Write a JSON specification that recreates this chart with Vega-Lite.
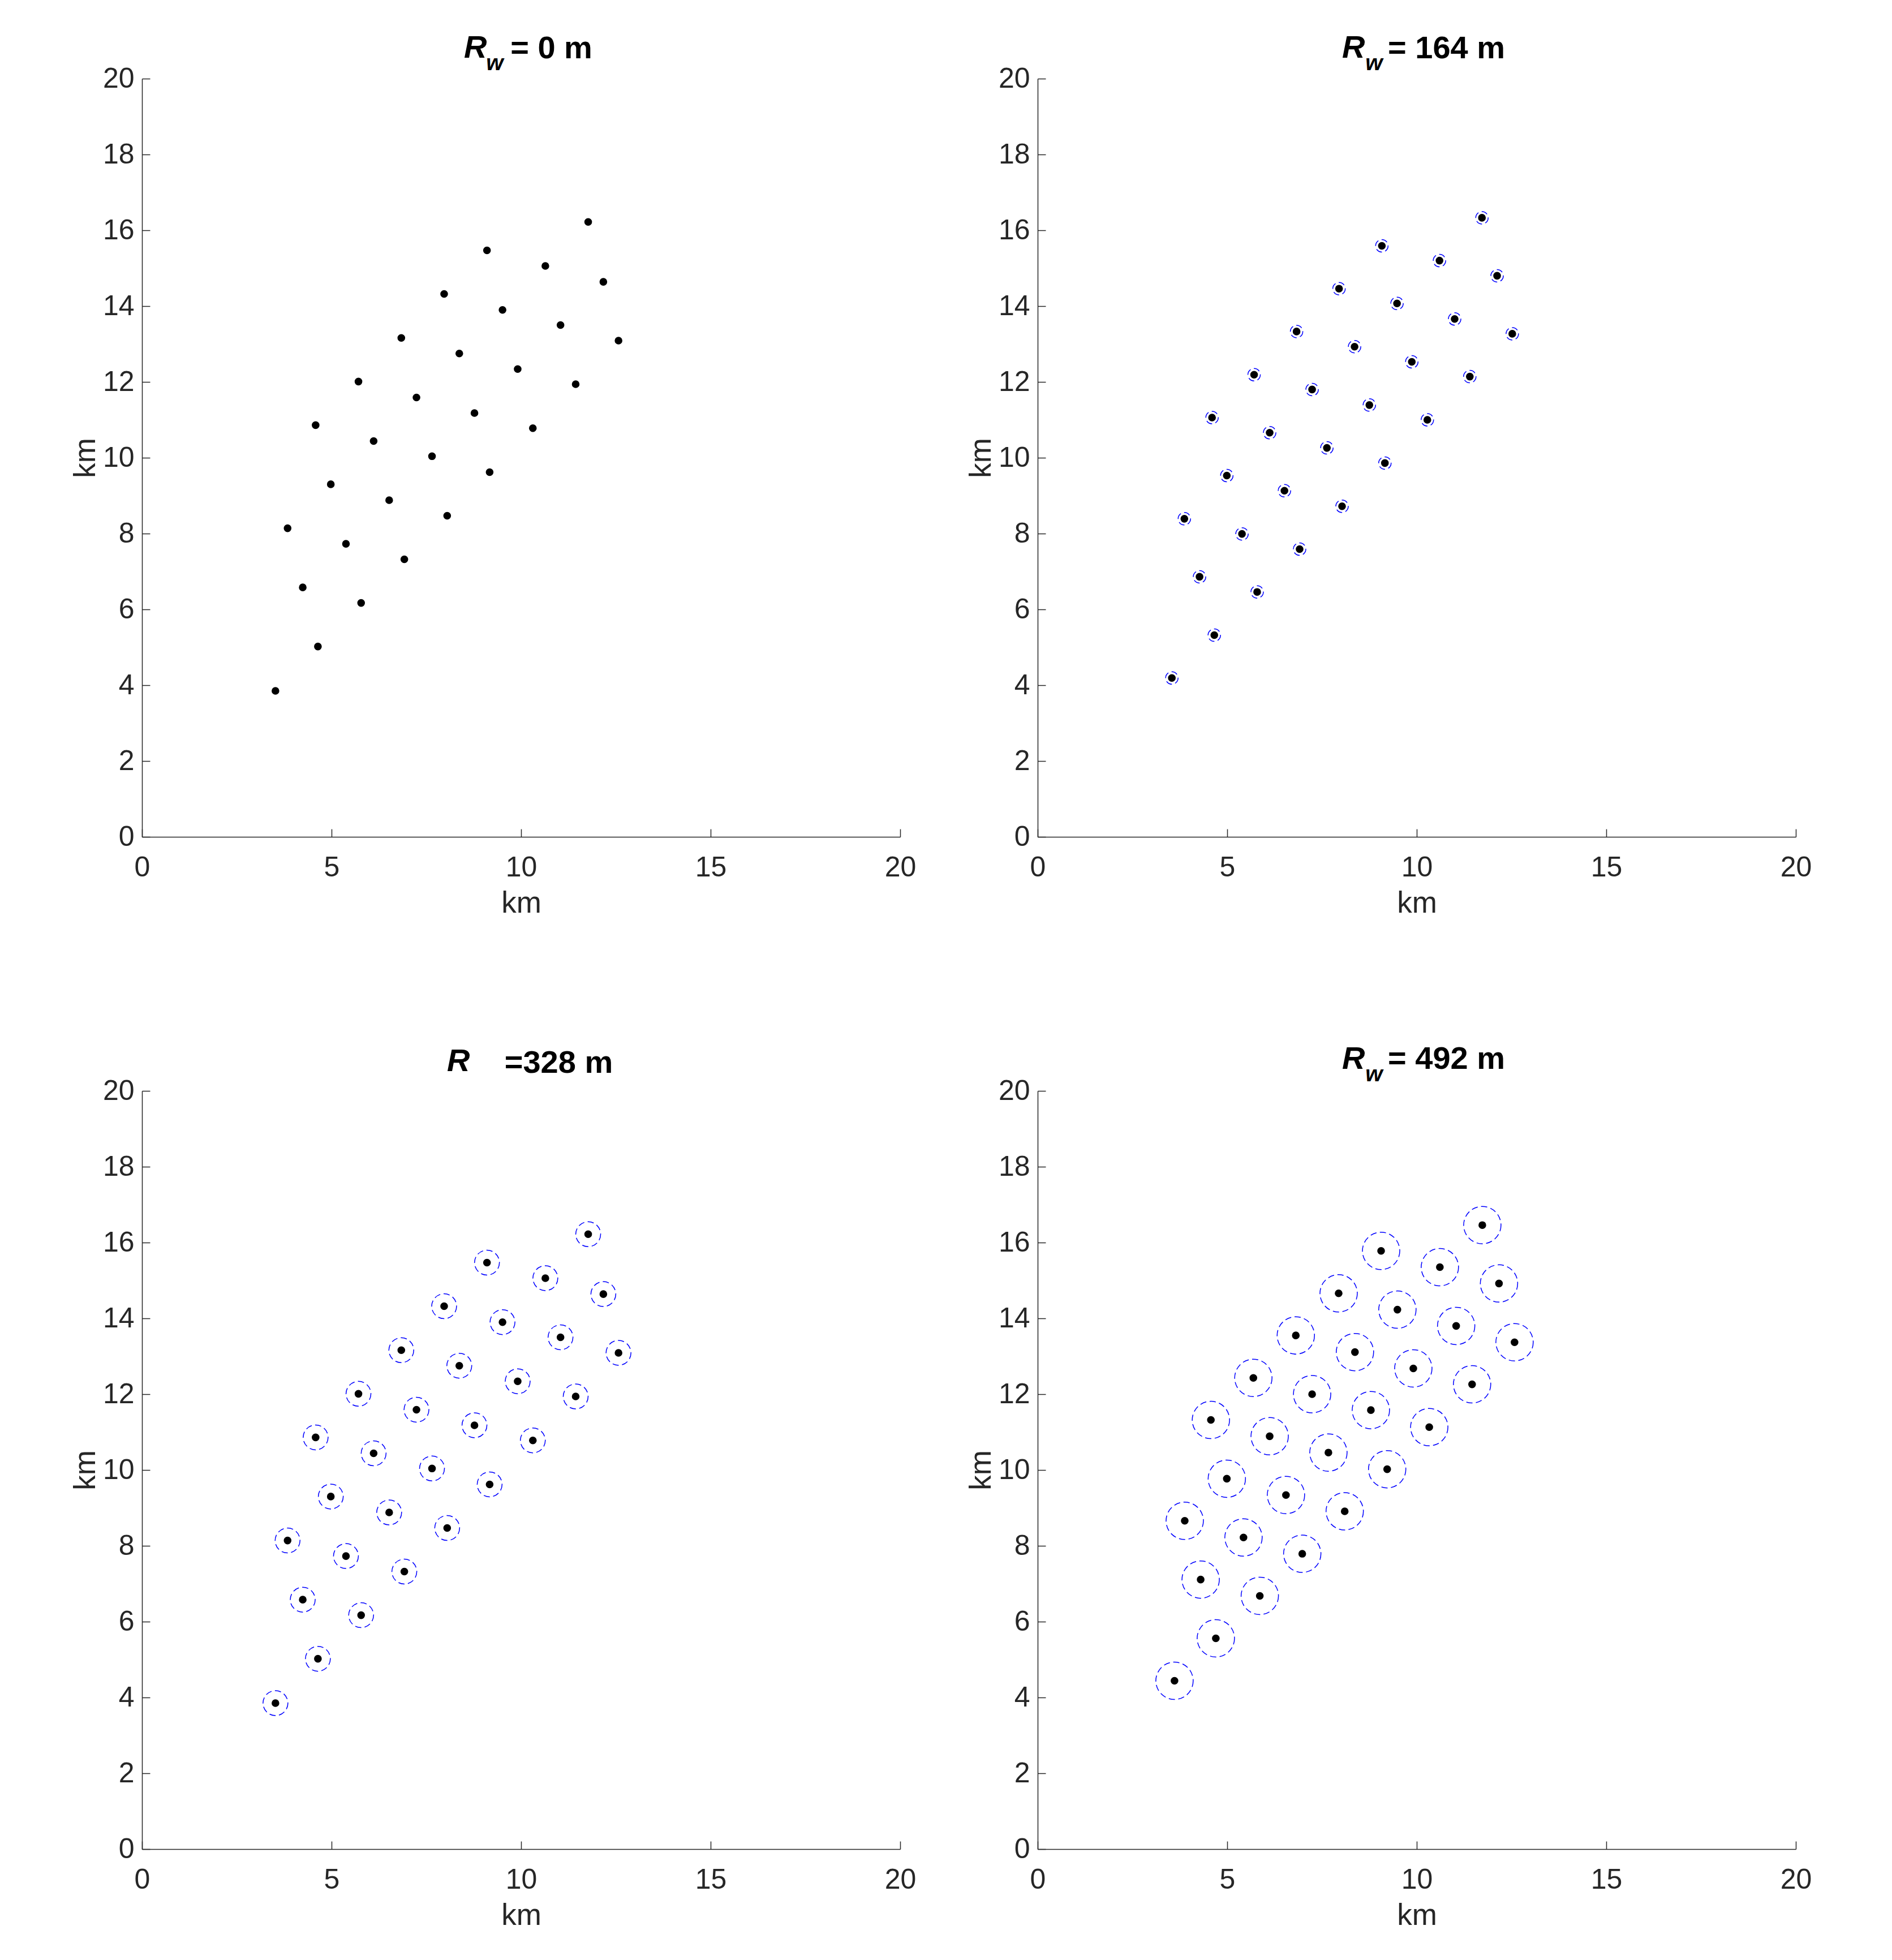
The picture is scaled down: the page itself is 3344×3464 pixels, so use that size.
{
  "$schema": "https://vega.github.io/schema/vega-lite/v6.json",
  "autosize": {"type": "none"},
  "padding": {"left": 251, "top": 139, "right": 3093, "bottom": 3325},
  "background": "white",
  "config": {
    "font": "Liberation Sans",
    "view": {"stroke": null},
    "axis": {
      "grid": false,
      "domainColor": "#262626",
      "domainWidth": 1.5,
      "tickColor": "#262626",
      "tickWidth": 1.5,
      "tickSize": -14,
      "labelFont": "Liberation Sans",
      "labelFontSize": 50,
      "labelColor": "#262626",
      "labelFlush": false,
      "titleFont": "Liberation Sans",
      "titleFontSize": 53,
      "titleFontWeight": "normal",
      "titleColor": "#262626"
    },
    "title": {
      "font": "Liberation Sans",
      "fontSize": 56,
      "fontStyle": "italic",
      "fontWeight": "bold",
      "color": "black",
      "anchor": "start",
      "frame": "group"
    }
  },
  "datasets": {
    "layoutA": [
      {"x": 11.77, "y": 16.22}, {"x": 9.10, "y": 15.47}, {"x": 10.64, "y": 15.06}, {"x": 12.17, "y": 14.64},
      {"x": 7.97, "y": 14.32}, {"x": 9.51, "y": 13.90}, {"x": 11.04, "y": 13.50}, {"x": 12.57, "y": 13.09},
      {"x": 6.84, "y": 13.16}, {"x": 8.37, "y": 12.75}, {"x": 9.91, "y": 12.34}, {"x": 11.44, "y": 11.94},
      {"x": 5.71, "y": 12.01}, {"x": 7.24, "y": 11.59}, {"x": 8.77, "y": 11.18}, {"x": 10.31, "y": 10.78},
      {"x": 4.58, "y": 10.86}, {"x": 6.11, "y": 10.44}, {"x": 7.65, "y": 10.04}, {"x": 9.17, "y": 9.62},
      {"x": 4.98, "y": 9.30}, {"x": 6.52, "y": 8.88}, {"x": 8.05, "y": 8.47}, {"x": 3.84, "y": 8.14},
      {"x": 5.38, "y": 7.73}, {"x": 6.92, "y": 7.32}, {"x": 4.24, "y": 6.58}, {"x": 5.78, "y": 6.17},
      {"x": 4.64, "y": 5.02}, {"x": 3.52, "y": 3.85}
    ],
    "layoutB": [
      {"x": 11.72, "y": 16.33}, {"x": 9.08, "y": 15.59}, {"x": 10.60, "y": 15.20}, {"x": 12.12, "y": 14.80},
      {"x": 7.95, "y": 14.46}, {"x": 9.48, "y": 14.07}, {"x": 11.00, "y": 13.66}, {"x": 12.52, "y": 13.27},
      {"x": 6.83, "y": 13.33}, {"x": 8.36, "y": 12.93}, {"x": 9.87, "y": 12.53}, {"x": 11.40, "y": 12.14},
      {"x": 5.71, "y": 12.19}, {"x": 7.24, "y": 11.80}, {"x": 8.75, "y": 11.39}, {"x": 10.28, "y": 11.00},
      {"x": 4.60, "y": 11.06}, {"x": 6.12, "y": 10.66}, {"x": 7.63, "y": 10.26}, {"x": 9.16, "y": 9.86},
      {"x": 4.99, "y": 9.53}, {"x": 6.51, "y": 9.13}, {"x": 8.03, "y": 8.72}, {"x": 3.87, "y": 8.39},
      {"x": 5.39, "y": 7.99}, {"x": 6.91, "y": 7.59}, {"x": 4.27, "y": 6.86}, {"x": 5.79, "y": 6.46},
      {"x": 4.66, "y": 5.32}, {"x": 3.54, "y": 4.19}
    ],
    "layoutC": [
      {"x": 11.73, "y": 16.46}, {"x": 9.06, "y": 15.78}, {"x": 10.61, "y": 15.35}, {"x": 12.17, "y": 14.92},
      {"x": 7.94, "y": 14.66}, {"x": 9.49, "y": 14.23}, {"x": 11.04, "y": 13.80}, {"x": 12.58, "y": 13.37},
      {"x": 6.81, "y": 13.55}, {"x": 8.37, "y": 13.11}, {"x": 9.91, "y": 12.68}, {"x": 11.46, "y": 12.26},
      {"x": 5.69, "y": 12.43}, {"x": 7.24, "y": 12.00}, {"x": 8.79, "y": 11.58}, {"x": 10.33, "y": 11.13},
      {"x": 4.57, "y": 11.32}, {"x": 6.12, "y": 10.89}, {"x": 7.67, "y": 10.46}, {"x": 9.22, "y": 10.02},
      {"x": 4.99, "y": 9.77}, {"x": 6.55, "y": 9.34}, {"x": 8.10, "y": 8.91}, {"x": 3.88, "y": 8.66},
      {"x": 5.43, "y": 8.22}, {"x": 6.98, "y": 7.79}, {"x": 4.30, "y": 7.11}, {"x": 5.86, "y": 6.68},
      {"x": 4.70, "y": 5.56}, {"x": 3.61, "y": 4.44}
    ]
  },
  "columns": 2,
  "spacing": {"row": 449, "column": 243},
  "bounds": "flush",
  "concat": [
    {
      "width": 1340, "height": 1340,
      "data": {"name": "layoutA"},
      "title": {"text": "R", "dx": 569, "offset": -57},
      "resolve": {"axis": {"x": "independent", "y": "independent"}},
      "layer": [
        {
          "mark": {"type": "point", "shape": "circle", "filled": false, "stroke": "#0000ff", "strokeWidth": 1.5, "strokeDash": [11, 6], "size": 0, "opacity": 1},
          "encoding": {
            "x": {"field": "x", "type": "quantitative", "scale": {"domain": [0, 20], "nice": false}, "axis": {"orient": "bottom", "values": [0, 5, 10, 15, 20], "title": "km", "labelPadding": 43, "titlePadding": 12}},
            "y": {"field": "y", "type": "quantitative", "scale": {"domain": [0, 20], "nice": false}, "axis": {"orient": "left", "values": [0, 2, 4, 6, 8, 10, 12, 14, 16, 18, 20], "title": "km", "labelPadding": 28, "titlePadding": 3}}
          }
        },
        {
          "mark": {"type": "circle", "size": 185, "color": "black", "opacity": 1},
          "encoding": {
            "x": {"field": "x", "type": "quantitative", "scale": {"domain": [0, 20], "nice": false}, "axis": {"orient": "top", "domain": false, "ticks": false, "labels": false, "title": "= 0 m", "titleFontSize": 56, "titleFontWeight": "bold", "titleColor": "black", "titleX": 723, "titleY": -37, "titleAlign": "center", "titleBaseline": "alphabetic", "titleAngle": 0}},
            "y": {"field": "y", "type": "quantitative", "scale": {"domain": [0, 20], "nice": false}, "axis": {"orient": "right", "domain": false, "ticks": false, "labels": false, "title": "w", "titleFontSize": 39, "titleFontWeight": "bold", "titleFontStyle": "italic", "titleColor": "black", "titleX": -717, "titleY": -16, "titleAlign": "center", "titleBaseline": "alphabetic", "titleAngle": 0}}
          }
        }
      ]
    },
    {
      "width": 1340, "height": 1340,
      "data": {"name": "layoutB"},
      "title": {"text": "R", "dx": 538, "offset": -57},
      "resolve": {"axis": {"x": "independent", "y": "independent"}},
      "layer": [
        {
          "mark": {"type": "point", "shape": "circle", "filled": false, "stroke": "#0000ff", "strokeWidth": 1.5, "strokeDash": [11, 6], "size": 484, "opacity": 1},
          "encoding": {
            "x": {"field": "x", "type": "quantitative", "scale": {"domain": [0, 20], "nice": false}, "axis": {"orient": "bottom", "values": [0, 5, 10, 15, 20], "title": "km", "labelPadding": 43, "titlePadding": 12}},
            "y": {"field": "y", "type": "quantitative", "scale": {"domain": [0, 20], "nice": false}, "axis": {"orient": "left", "values": [0, 2, 4, 6, 8, 10, 12, 14, 16, 18, 20], "title": "km", "labelPadding": 28, "titlePadding": 3}}
          }
        },
        {
          "mark": {"type": "circle", "size": 185, "color": "black", "opacity": 1},
          "encoding": {
            "x": {"field": "x", "type": "quantitative", "scale": {"domain": [0, 20], "nice": false}, "axis": {"orient": "top", "domain": false, "ticks": false, "labels": false, "title": "= 164 m", "titleFontSize": 56, "titleFontWeight": "bold", "titleColor": "black", "titleX": 722, "titleY": -37, "titleAlign": "center", "titleBaseline": "alphabetic", "titleAngle": 0}},
            "y": {"field": "y", "type": "quantitative", "scale": {"domain": [0, 20], "nice": false}, "axis": {"orient": "right", "domain": false, "ticks": false, "labels": false, "title": "w", "titleFontSize": 39, "titleFontWeight": "bold", "titleFontStyle": "italic", "titleColor": "black", "titleX": -746, "titleY": -16, "titleAlign": "center", "titleBaseline": "alphabetic", "titleAngle": 0}}
          }
        }
      ]
    },
    {
      "width": 1340, "height": 1340,
      "data": {"name": "layoutA"},
      "title": {"text": "R", "dx": 539, "offset": -55},
      "resolve": {"axis": {"x": "independent"}},
      "layer": [
        {
          "mark": {"type": "point", "shape": "circle", "filled": false, "stroke": "#0000ff", "strokeWidth": 1.5, "strokeDash": [11, 6], "size": 1936, "opacity": 1},
          "encoding": {
            "x": {"field": "x", "type": "quantitative", "scale": {"domain": [0, 20], "nice": false}, "axis": {"orient": "bottom", "values": [0, 5, 10, 15, 20], "title": "km", "labelPadding": 43, "titlePadding": 12}},
            "y": {"field": "y", "type": "quantitative", "scale": {"domain": [0, 20], "nice": false}, "axis": {"values": [0, 2, 4, 6, 8, 10, 12, 14, 16, 18, 20], "title": "km", "labelPadding": 28, "titlePadding": 3}}
          }
        },
        {
          "mark": {"type": "circle", "size": 185, "color": "black", "opacity": 1},
          "encoding": {
            "x": {"field": "x", "type": "quantitative", "scale": {"domain": [0, 20], "nice": false}, "axis": {"orient": "top", "domain": false, "ticks": false, "labels": false, "title": "=328 m", "titleFontSize": 56, "titleFontWeight": "bold", "titleColor": "black", "titleX": 736, "titleY": -33, "titleAlign": "center", "titleBaseline": "alphabetic", "titleAngle": 0}},
            "y": {"field": "y", "type": "quantitative", "scale": {"domain": [0, 20], "nice": false}, "axis": {"values": [0, 2, 4, 6, 8, 10, 12, 14, 16, 18, 20], "title": "km", "labelPadding": 28, "titlePadding": 3}}
          }
        }
      ]
    },
    {
      "width": 1340, "height": 1340,
      "data": {"name": "layoutC"},
      "title": {"text": "R", "dx": 538, "offset": -58},
      "resolve": {"axis": {"x": "independent", "y": "independent"}},
      "layer": [
        {
          "mark": {"type": "point", "shape": "circle", "filled": false, "stroke": "#0000ff", "strokeWidth": 1.5, "strokeDash": [11, 6], "size": 4356, "opacity": 1},
          "encoding": {
            "x": {"field": "x", "type": "quantitative", "scale": {"domain": [0, 20], "nice": false}, "axis": {"orient": "bottom", "values": [0, 5, 10, 15, 20], "title": "km", "labelPadding": 43, "titlePadding": 12}},
            "y": {"field": "y", "type": "quantitative", "scale": {"domain": [0, 20], "nice": false}, "axis": {"orient": "left", "values": [0, 2, 4, 6, 8, 10, 12, 14, 16, 18, 20], "title": "km", "labelPadding": 28, "titlePadding": 3}}
          }
        },
        {
          "mark": {"type": "circle", "size": 185, "color": "black", "opacity": 1},
          "encoding": {
            "x": {"field": "x", "type": "quantitative", "scale": {"domain": [0, 20], "nice": false}, "axis": {"orient": "top", "domain": false, "ticks": false, "labels": false, "title": "= 492 m", "titleFontSize": 56, "titleFontWeight": "bold", "titleColor": "black", "titleX": 722, "titleY": -40, "titleAlign": "center", "titleBaseline": "alphabetic", "titleAngle": 0}},
            "y": {"field": "y", "type": "quantitative", "scale": {"domain": [0, 20], "nice": false}, "axis": {"orient": "right", "domain": false, "ticks": false, "labels": false, "title": "w", "titleFontSize": 39, "titleFontWeight": "bold", "titleFontStyle": "italic", "titleColor": "black", "titleX": -746, "titleY": -18, "titleAlign": "center", "titleBaseline": "alphabetic", "titleAngle": 0}}
          }
        }
      ]
    }
  ]
}
